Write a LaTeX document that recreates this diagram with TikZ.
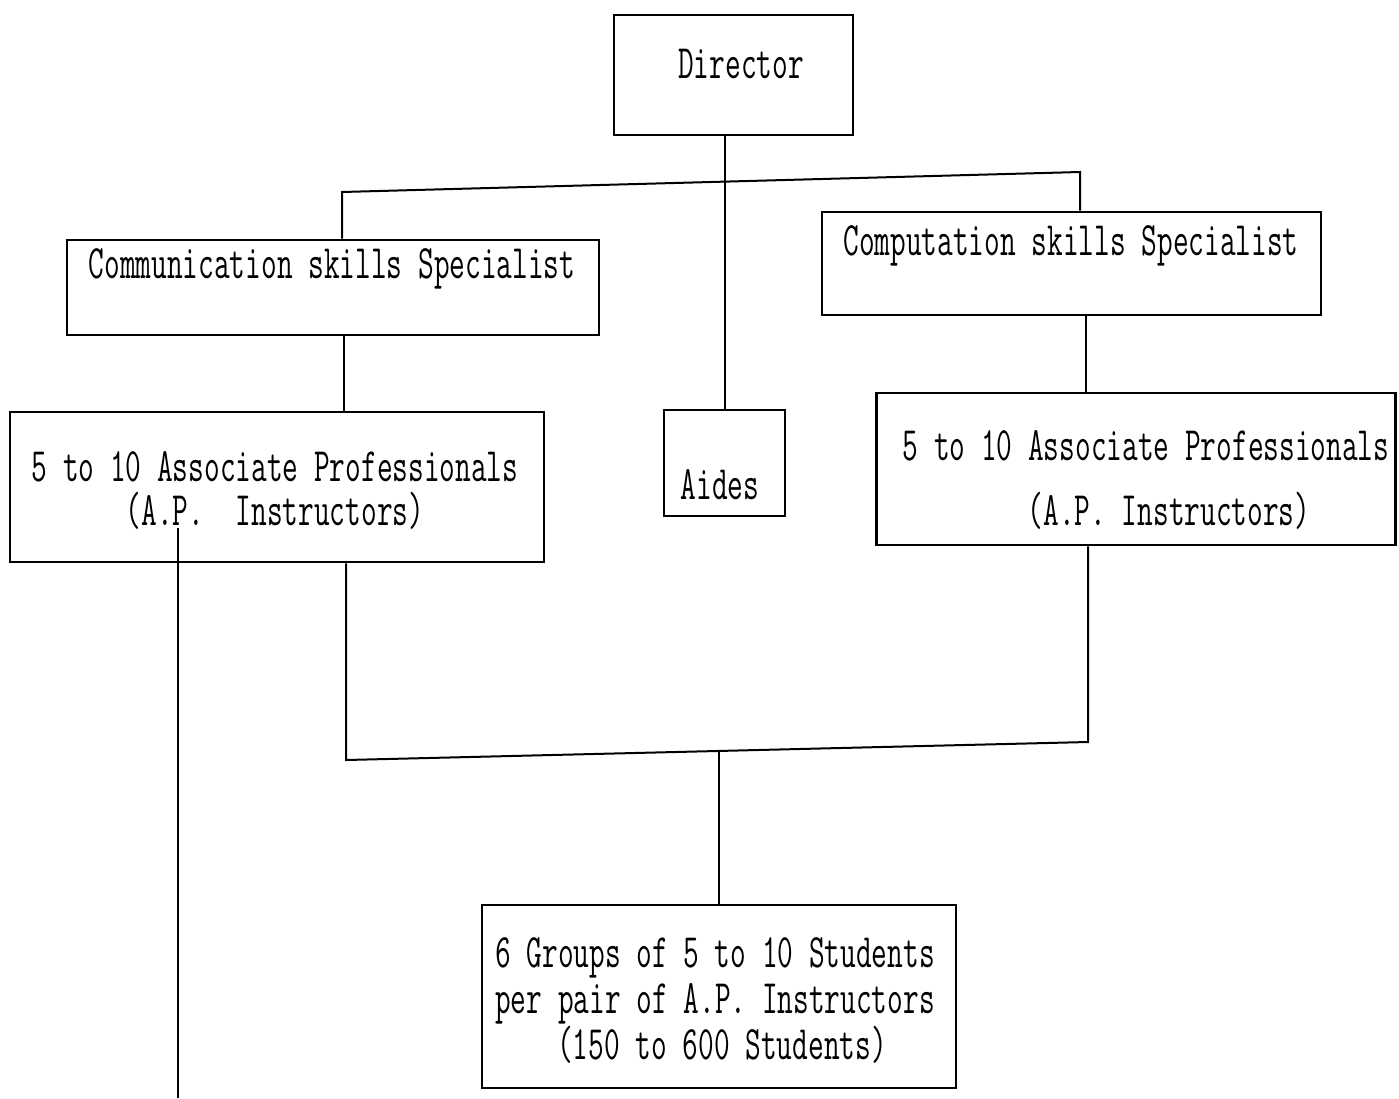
\documentclass[tikz,border=0pt]{standalone}
\usepackage{fontspec}
\usepackage{graphicx}
\newcommand{\tw}[1]{\scalebox{0.635}[1]{\ttfamily\fontsize{48}{56}\selectfont\frenchspacing #1}}
\tikzset{
  box/.style={draw=black, line width=2.6pt, rectangle, inner sep=0pt, fill=none},
  conn/.style={draw=black, line width=2pt},
  lbl/.style={anchor=base, inner sep=0pt}
}
\begin{document}
\begin{tikzpicture}[x=1pt,y=-1pt]
\useasboundingbox (0,0) rectangle (1399,1098);
\fill[white] (0,0) rectangle (1399,1098);

% boxes
\node[box, minimum width=239pt, minimum height=120pt] (dir) at (733.5,75) {};
\node[box, minimum width=532pt, minimum height=95pt] (comm) at (333,287.5) {};
\node[box, minimum width=499pt, minimum height=103pt] (comp) at (1071.5,263.5) {};
\node[box, minimum width=534pt, minimum height=150pt] (apl) at (277,487) {};
\node[box, minimum width=121pt, minimum height=106pt] (aides) at (724.5,463) {};
\node[box, minimum width=519pt, minimum height=152pt] (apr) at (1136,469) {};
\node[box, minimum width=474pt, minimum height=183pt] (grp) at (719,996.5) {};

% texts
\node[lbl] (tdir) at (741,78) {\tw{Director}};
\node[lbl] (tcomm) at (332,278) {\tw{Communication skills Specialist}};
\node[lbl] (tcomp) at (1071,255) {\tw{Computation skills Specialist}};
\node[lbl] (tapl1) at (275,481) {\tw{5 to 10 Associate Professionals}};
\node[lbl] (tapl2) at (275,525) {\tw{(A.P.\ \ Instructors)}};
\node[lbl] (taides) at (720,499) {\tw{Aides}};
\node[lbl] (tapr1) at (1146,460) {\tw{5 to 10 Associate Professionals}};
\node[lbl] (tapr2) at (1169,525) {\tw{(A.P. Instructors)}};
\node[lbl] (tgrp1) at (715,967) {\tw{6 Groups of 5 to 10 Students}};
\node[lbl] (tgrp2) at (715,1013) {\tw{per pair of A.P. Instructors}};
\node[lbl] (tgrp3) at (722,1059) {\tw{(150 to 600 Students)}};

% connector coordinates
\coordinate (tl) at (342,192);
\coordinate (tr) at (1080,172);
\coordinate (cl) at (344,0);
\coordinate (cr) at (1086,0);
\coordinate (bl) at (346,760);
\coordinate (br) at (1088,742);
\coordinate (bm) at (719,751);
\coordinate (lt) at (178,528);
\coordinate (lb) at (178,1098);

% connectors
\draw[conn] (aides.north) -- (aides.north |- dir.south);
\draw[conn] (comm.north -| tl) -- (tl) -- (tr) -- (comp.north -| tr);
\draw[conn] (comm.south -| cl) -- (apl.north -| cl);
\draw[conn] (comp.south -| cr) -- (apr.north -| cr);
\draw[conn] (apl.south -| bl) -- (bl) -- (br) -- (apr.south -| br);
\draw[conn] (bm) -- (grp.north);
\draw[conn] (lt) -- (lb);
\end{tikzpicture}
\end{document}
